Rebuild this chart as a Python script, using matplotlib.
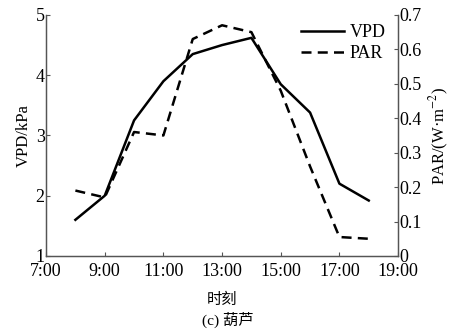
import matplotlib.pyplot as plt

hours = [8, 9, 10, 11, 12, 13, 14, 15, 16, 17, 18]
vpd = [1.6, 2.0, 3.25, 3.9, 4.35, 4.5, 4.62, 3.85, 3.38, 2.2, 1.92]
par = [0.19, 0.17, 0.36, 0.35, 0.63, 0.67, 0.65, 0.48, 0.26, 0.055, 0.05]
xticks = [7, 9, 11, 13, 15, 17, 19]
xlabels = ['7:00', '9:00', '11:00', '13:00', '15:00', '17:00', '19:00']

fam = ['Liberation Serif', 'Noto Sans CJK SC']
plt.rcParams['font.family'] = fam
plt.rcParams['font.size'] = 13
plt.rcParams['mathtext.fontset'] = 'stix'

fig = plt.figure(figsize=(4.56, 3.32), dpi=100)
ax = fig.add_axes([0.101, 0.229, 0.772, 0.726])
ax2 = ax.twinx()

l1, = ax.plot(hours, vpd, color='black', lw=1.8, label='VPD')
l2, = ax2.plot(hours, par, color='black', lw=1.8, ls=(0, (4, 2.5)), label='PAR')

ax.set_xlim(7, 19)
ax.set_ylim(1, 5)
ax2.set_ylim(0, 0.7)
ax.set_xticks(xticks)
ax.set_xticklabels(xlabels)
ax.set_yticks([1, 2, 3, 4, 5])
ax2.set_yticks([0, 0.1, 0.2, 0.3, 0.4, 0.5, 0.6, 0.7])
ax2.set_yticklabels(['0', '0.1', '0.2', '0.3', '0.4', '0.5', '0.6', '0.7'])

for a in (ax, ax2):
    a.spines['top'].set_visible(False)
    for s in a.spines.values():
        s.set_color('#555555')
        s.set_linewidth(0.9)
    a.tick_params(direction='in', length=3, width=0.8, color='#555555', pad=1)
ax.tick_params(axis='x', pad=5)

ax.set_ylabel('VPD/kPa', fontsize=12, labelpad=3)
ax2.set_ylabel('PAR/(W·m$^{-2}$)', fontsize=12, labelpad=4)
ax.set_xlabel('时刻', fontsize=11, labelpad=9)
fig.text(0.5, 0.012, '(c) 葫芦', ha='center', va='bottom', fontsize=11)

ax.legend([l1, l2], ['VPD', 'PAR'], loc='upper right', frameon=False,
          handlelength=2.4, handletextpad=0.3, labelspacing=0.25,
          borderaxespad=0.1, bbox_to_anchor=(0.99, 1.0))

fig.savefig('out.png', dpi=100)
